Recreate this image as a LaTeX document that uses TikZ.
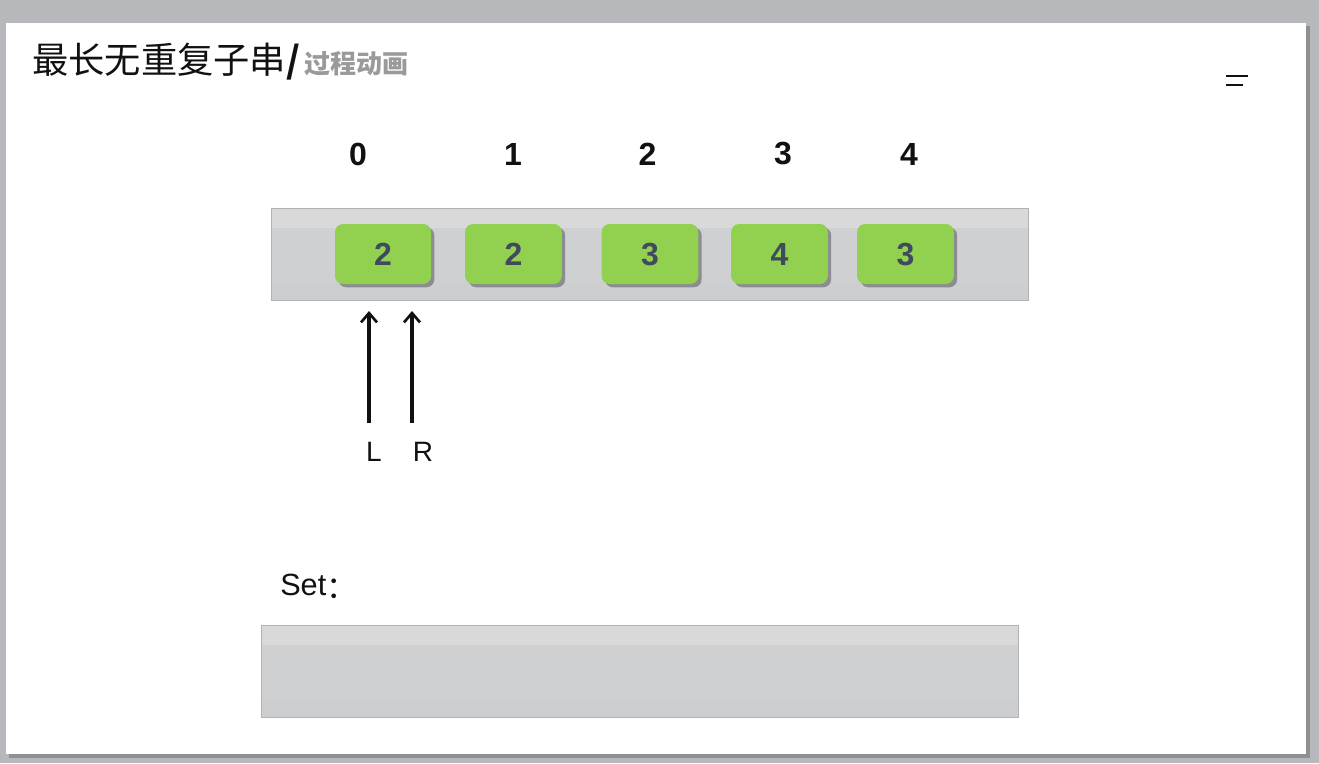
\documentclass[tikz,border=0pt]{standalone}
\usepackage{fontspec}
\setmainfont{Liberation Sans}
\newfontfamily\cjk{Noto Sans CJK SC}
\usetikzlibrary{arrows.meta,shadows}
\definecolor{bggray}{HTML}{B6B8BB}
\definecolor{edgeshadow}{HTML}{8E8F91}
\definecolor{bartop}{HTML}{D9D9D9}
\definecolor{barmid}{HTML}{CFD0D2}
\definecolor{barbot}{HTML}{CDCED0}
\definecolor{barborder}{HTML}{B0B2B5}
\definecolor{cellgreen}{HTML}{92D050}
\definecolor{celltext}{HTML}{3F4A5C}
\definecolor{cellshadow}{HTML}{8C8D90}
\definecolor{subgray}{HTML}{9A9A9A}
\definecolor{ink}{HTML}{111111}
\tikzset{
  cell/.style={fill=cellgreen, rounded corners=6pt, minimum width=72.5pt, minimum height=45pt,
    inner sep=0pt, text=celltext, font=\fontsize{24}{28}\selectfont\bfseries,
    drop shadow={shadow xshift=2.5pt, shadow yshift=-2.5pt, fill=cellshadow, opacity=1}},
  idx/.style={inner sep=0pt, text=ink, font=\fontsize{24}{28}\selectfont\bfseries},
  ptrlabel/.style={inner sep=0pt, text=ink, font=\fontsize{21}{25}\selectfont},
  ptr/.style={draw=ink, line width=2.8pt, -{Straight Barb[length=7pt,width=12pt,line width=2pt]}},
  barframe/.style={draw=barborder, line width=0.7pt}
}
\begin{document}
\begin{tikzpicture}[x=0.75pt,y=-0.75pt]
\useasboundingbox (0,0) rectangle (1319,763);
% window background
\fill[bggray] (0,0) rectangle (1319,763);
\fill[edgeshadow] (9,26) rectangle (1310,758);
\fill[white] (6,23) rectangle (1306,754);
% title
\node[anchor=base west, inner sep=0pt, text=ink] (title) at (32,74)
  {\cjk\fontsize{27.2}{30}\selectfont 最长无重复子串\textbf{/}};
\node[anchor=base west, inner sep=0pt, text=subgray] (subtitle) at ([xshift=3pt]title.base east)
  {\cjk\bfseries\fontsize{19.5}{22}\selectfont 过程动画};
% small menu icon
\draw[ink, line width=1.6pt] (1226,76) -- (1248,76);
\draw[ink, line width=1.6pt] (1226,85) -- (1243,85);
% array bar
\fill[barmid] (271,208) rectangle (1028,300);
\fill[bartop] (271,208) rectangle (1028,228);
\fill[barbot] (271,282) rectangle (1028,300);
\draw[barframe] (271,208) rectangle (1028,300);
% indices
\node[idx] (i0) at (358,154) {0};
\node[idx] (i1) at (513,154) {1};
\node[idx] (i2) at (647.5,154) {2};
\node[idx] (i3) at (783,154) {3};
\node[idx] (i4) at (909,154) {4};
% cells
\node[cell, minimum width=72pt, text depth=-2pt] (c0) at (383,254) {2};
\node[cell, text depth=-2pt] (c1) at (513.5,254) {2};
\node[cell, text depth=-2pt] (c2) at (650,254) {3};
\node[cell, text depth=-2pt] (c3) at (779.5,254) {4};
\node[cell, text depth=-2pt] (c4) at (905.5,254) {3};
% pointers
\coordinate (Ltop) at (369,311);
\coordinate (Lbot) at (369,423);
\coordinate (Rtop) at (412,311);
\coordinate (Rbot) at (412,423);
\draw[ptr] (Lbot) -- (Ltop);
\draw[ptr] (Rbot) -- (Rtop);
\node[ptrlabel] (Llab) at (374,452) {L};
\node[ptrlabel] (Rlab) at (423,452) {R};
% set
\node[anchor=base west, inner sep=0pt, text=ink] (setlab) at (280,595)
  {\fontsize{23}{27}\selectfont Set\raisebox{-2.5pt}{\cjk ：}};
\fill[barmid] (261,625) rectangle (1018,717);
\fill[bartop] (261,625) rectangle (1018,645);
\fill[barbot] (261,698) rectangle (1018,717);
\draw[barframe] (261,625) rectangle (1018,717);
\end{tikzpicture}
\end{document}
